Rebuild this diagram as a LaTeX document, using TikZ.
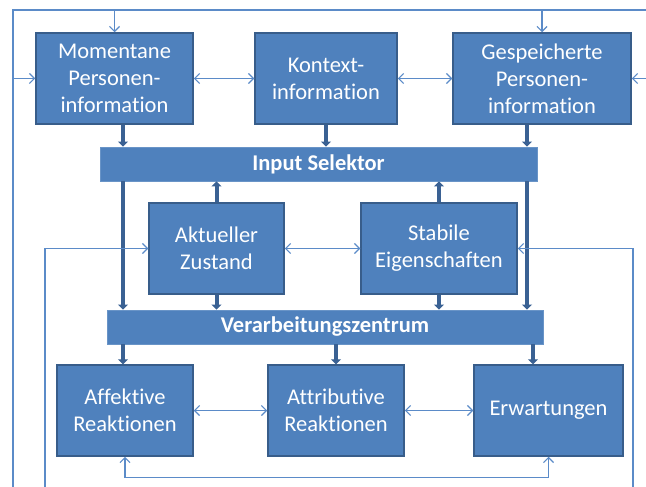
\documentclass[tikz,border=0pt]{standalone}
\usepackage{fontspec}
\setmainfont{Carlito}[RawFeature={-liga;-clig;-dlig;-calt}]
\usepackage{xcolor}
\usetikzlibrary{arrows.meta, positioning}

\definecolor{boxfill}{HTML}{4F81BD}
\definecolor{boxline}{HTML}{385D8A}
\definecolor{linkblue}{HTML}{5B8BC8}
\definecolor{flowblue}{HTML}{3A6193}

\tikzset{
  unit/.style={draw=boxline, line width=1.5pt, fill=boxfill, text=white, align=center,
    minimum height=91pt, inner sep=0pt, font=\fontsize{22.5}{27}\selectfont},
  bar/.style={draw=boxfill!85!white, line width=0.8pt, fill=boxfill, text=white,
    minimum height=34pt, minimum width=437pt, inner sep=0pt,
    font=\fontsize{22.5}{26}\selectfont\bfseries},
  link/.style={draw=linkblue, line width=1.2pt},
  arr/.style={link, -{Straight Barb[length=5pt,width=10pt]}},
  dlink/.style={link, {Straight Barb[length=5pt,width=10pt]}-{Straight Barb[length=5pt,width=10pt]}},
  flow/.style={draw=flowblue, line width=4pt, -{Triangle[length=5pt,width=10pt]}}
}

\begin{document}
\begin{tikzpicture}[x=1pt, y=-1pt]
    \useasboundingbox (0,0) rectangle (646,487);

    % Eingaben
    \node[unit, minimum width=157pt] (moment) at (114.5,78.5) {Momentane\\Personen-\\information};
    \node[unit, minimum width=142pt] (kontext) at (326,78.5) {Kontext-\\information};
    \node[unit, minimum width=178pt] (gespei) at (542,78.5) {Gespeicherte\\Personen-\\information};

    \node[bar] (selektor) at (318.5,164) {Input Selektor};

    \node[unit, minimum width=135pt] (zustand) at (216.5,248.5) {Aktueller\\Zustand};
    \node[unit, minimum width=156pt] (stabil) at (439,248.5) {Stabile\\Eigenschaften};

    \node[bar, minimum width=436pt] (zentrum) at (325,327) {Verarbeitungszentrum};

    % Ausgaben
    \node[unit, minimum width=136pt] (affekt) at (125,410.5) {Affektive\\Reaktionen};
    \node[unit, minimum width=136pt] (attrib) at (336,410.5) {Attributive\\Reaktionen};
    \node[unit, minimum width=149pt] (erwart) at (548.5,410.5) {Erwartungen};

    \coordinate (outerL) at (13,487);
    \coordinate (outerT) at (13,10);
    \coordinate (outerR) at (646,10);
    \coordinate (innerL) at (45,487);
    \coordinate (innerR) at (633,487);
    \coordinate (colL) at (123,0);
    \coordinate (colR) at (527,0);
    \coordinate (colE) at (533,0);

    % Hauptfluss
    \draw[flow] (moment.south -| colL) -- (selektor.north -| colL);
    \draw[flow] (kontext.south) -- (kontext.south |- selektor.north);
    \draw[flow] (gespei.south -| colR) -- (selektor.north -| colR);
    \draw[flow] (selektor.south -| colL) -- (zentrum.north -| colL);
    \draw[flow] (selektor.south -| colR) -- (zentrum.north -| colR);
    \draw[flow] (zustand.north) -- (zustand.north |- selektor.south);
    \draw[flow] (stabil.north) -- (stabil.north |- selektor.south);
    \draw[flow] (zustand.south) -- (zustand.south |- zentrum.north);
    \draw[flow] (stabil.south) -- (stabil.south |- zentrum.north);
    \draw[flow] (zentrum.south -| colL) -- (affekt.north -| colL);
    \draw[flow] (zentrum.south -| attrib.north) -- (attrib.north);
    \draw[flow] (zentrum.south -| colE) -- (erwart.north -| colE);

    % Rueckkopplung
    \draw[link] (outerL) -- (outerT) -- (outerR);
    \draw[arr] (outerT -| moment.north) -- (moment.north);
    \draw[arr] (outerT -| gespei.north) -- (gespei.north);
    \draw[arr] (outerT |- moment.west) -- (moment.west);
    \draw[arr] (outerR |- gespei.east) -- (gespei.east);
    \draw[arr] (innerL) |- (zustand.west);
    \draw[arr] (innerR) |- (stabil.east);

    \draw[dlink] (moment.east) -- (kontext.west);
    \draw[dlink] (kontext.east) -- (gespei.west);
    \draw[dlink] (zustand.east) -- (stabil.west);
    \draw[dlink] (affekt.east) -- (attrib.west);
    \draw[dlink] (attrib.east) -- (erwart.west);
    \draw[dlink] (affekt.south) -- ++(0,21) -| (erwart.south);
\end{tikzpicture}
\end{document}
